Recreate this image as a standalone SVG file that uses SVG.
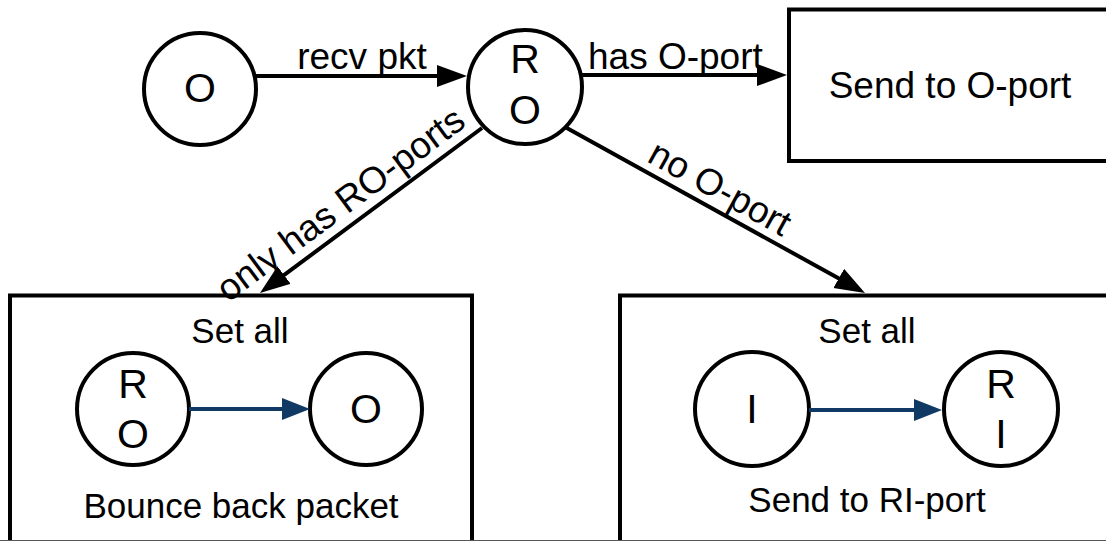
<svg xmlns="http://www.w3.org/2000/svg" width="1106" height="541" viewBox="0 0 1106 541">
  <style>
    text { font-family: "Liberation Sans", Arial, sans-serif; fill: #000; }
    .lbl { font-size: 37px; }
    .box-txt { font-size: 35px; text-anchor: middle; }
    .sym { font-size: 41px; text-anchor: middle; }
    .shape { fill: #fff; stroke: #000; stroke-width: 4; }
    .edge { fill: none; stroke: #000; stroke-width: 4; }
    .edge-blue { fill: none; stroke: #103a64; stroke-width: 4; }
  </style>
  <defs>
    <marker id="head" markerUnits="userSpaceOnUse" markerWidth="32" markerHeight="24" refX="22" refY="11" orient="auto">
      <path d="M0,0 L30,11 L0,22 z" fill="#000"/>
    </marker>
    <marker id="head-blue" markerUnits="userSpaceOnUse" markerWidth="30" markerHeight="24" refX="20" refY="11" orient="auto">
      <path d="M0,0 L28,11 L0,22 z" fill="#103a64"/>
    </marker>
  </defs>

  <rect width="1106" height="541" fill="#fff"/>

  <!-- outcome boxes -->
  <g id="box-send-o">
    <rect class="shape" x="789" y="9.5" width="340" height="151.5"/>
    <text class="lbl" x="950" y="98" text-anchor="middle">Send to O-port</text>
  </g>

  <g id="box-bounce">
    <rect class="shape" x="10" y="295.5" width="462" height="260"/>
    <text class="box-txt" x="240" y="343">Set all</text>
    <g id="bounce-ro">
      <circle class="shape" cx="133" cy="409" r="56"/>
      <text class="sym" x="133" y="398">R</text>
      <text class="sym" x="133" y="448">O</text>
    </g>
    <g id="bounce-o">
      <circle class="shape" cx="366" cy="409" r="56"/>
      <text class="sym" x="366" y="423">O</text>
    </g>
    <text class="box-txt" x="241" y="518">Bounce back packet</text>
  </g>

  <g id="box-send-ri">
    <rect class="shape" x="620" y="295.5" width="500" height="260"/>
    <text class="box-txt" x="867" y="343">Set all</text>
    <g id="send-i">
      <circle class="shape" cx="752" cy="409" r="57"/>
      <text class="sym" x="752" y="423">I</text>
    </g>
    <g id="send-ri">
      <circle class="shape" cx="1001" cy="409" r="57"/>
      <text class="sym" x="1001" y="398">R</text>
      <text class="sym" x="1001" y="448">I</text>
    </g>
    <text class="box-txt" x="867" y="512">Send to RI-port</text>
  </g>

  <!-- port states -->
  <g id="node-o">
    <circle class="shape" cx="200" cy="89" r="56"/>
    <text class="sym" x="200" y="102">O</text>
  </g>

  <g id="node-ro">
    <circle class="shape" cx="525" cy="87" r="57"/>
    <text class="sym" x="525" y="73">R</text>
    <text class="sym" x="525" y="124">O</text>
  </g>

  <!-- transitions -->
  <g id="connectors">
    <line class="edge" x1="255" y1="76" x2="459" y2="76" marker-end="url(#head)"/>
    <text class="lbl" x="362" y="69" text-anchor="middle">recv pkt</text>

    <line class="edge" x1="582" y1="75" x2="779" y2="75" marker-end="url(#head)"/>
    <text class="lbl" x="588" y="69">has O-port</text>

    <line class="edge" x1="482" y1="128" x2="266.4" y2="288.2" marker-end="url(#head)"/>
    <text class="lbl" text-anchor="middle" transform="translate(348,214) rotate(-36.6)">only has RO-ports</text>

    <line class="edge" x1="565" y1="127" x2="858" y2="289.1" marker-end="url(#head)"/>
    <text class="lbl" text-anchor="middle" transform="translate(714,199) rotate(29)">no O-port</text>

    <line class="edge-blue" x1="189" y1="409" x2="302" y2="409" marker-end="url(#head-blue)"/>
    <line class="edge-blue" x1="809" y1="410" x2="934" y2="410" marker-end="url(#head-blue)"/>
  </g>

  <line x1="0" y1="540.5" x2="1106" y2="540.5" stroke="#555" stroke-width="1"/>
</svg>
